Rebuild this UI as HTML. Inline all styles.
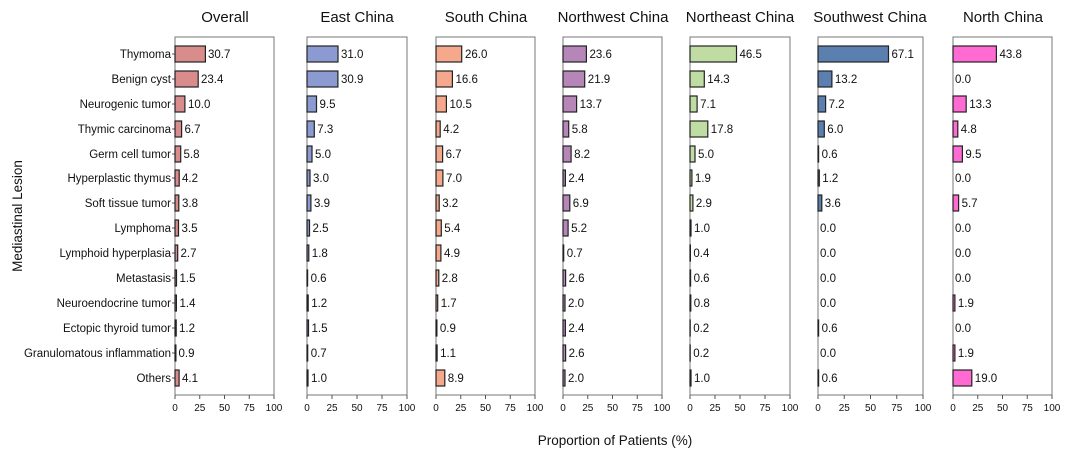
<!DOCTYPE html>
<html><head><meta charset="utf-8"><style>
body{margin:0;background:#fff}
svg{display:block;font-family:"Liberation Sans",sans-serif}
.t{font-size:15px;fill:#111;text-anchor:middle}
.v{font-size:11.5px;fill:#111}
.c{font-size:11.5px;fill:#111;text-anchor:end}
.k{font-size:10px;fill:#111;text-anchor:middle}
.f{fill:none;stroke:#777;stroke-width:1}
rect.b{stroke:#222;stroke-width:1.2}
</style></head><body>
<svg width="1080" height="461" viewBox="0 0 1080 461">
<text x="22" y="216" transform="rotate(-90 22 216)" style="font-size:13.5px;fill:#111;text-anchor:middle">Mediastinal Lesion</text>
<text x="615" y="445" style="font-size:13.5px;fill:#111;text-anchor:middle">Proportion of Patients (%)</text>

<!-- category labels -->
<g>
<text class="c" x="171" y="58">Thymoma</text>
<text class="c" x="171" y="83">Benign cyst</text>
<text class="c" x="171" y="108">Neurogenic tumor</text>
<text class="c" x="171" y="133">Thymic carcinoma</text>
<text class="c" x="171" y="158">Germ cell tumor</text>
<text class="c" x="171" y="182">Hyperplastic thymus</text>
<text class="c" x="171" y="207">Soft tissue tumor</text>
<text class="c" x="171" y="232">Lymphoma</text>
<text class="c" x="171" y="257">Lymphoid hyperplasia</text>
<text class="c" x="171" y="282">Metastasis</text>
<text class="c" x="171" y="307">Neuroendocrine tumor</text>
<text class="c" x="171" y="332">Ectopic thyroid tumor</text>
<text class="c" x="171" y="357">Granulomatous inflammation</text>
<text class="c" x="171" y="382">Others</text>
<path d="M172 54h3M172 79h3M172 104h3M172 129h3M172 154h3M172 178h3M172 203h3M172 228h3M172 253h3M172 278h3M172 303h3M172 328h3M172 353h3M172 378h3" stroke="#555"/>
</g>

<!-- Overall -->
<g transform="translate(175,0)">
<text class="t" x="50" y="22">Overall</text>
<rect class="f" x="0" y="37" width="99" height="358"/>
<path d="M0 395v4M24.75 395v4M49.5 395v4M74.25 395v4M99 395v4" stroke="#555"/>
<text class="k" x="0" y="411">0</text><text class="k" x="24.75" y="411">25</text><text class="k" x="49.5" y="411">50</text><text class="k" x="74.25" y="411">75</text><text class="k" x="99" y="411">100</text>
<g fill="#d98c8c">
<rect class="b" x="0" y="46" width="30.4" height="16"/>
<rect class="b" x="0" y="71" width="23.2" height="16"/>
<rect class="b" x="0" y="96" width="9.9" height="16"/>
<rect class="b" x="0" y="121" width="6.6" height="16"/>
<rect class="b" x="0" y="146" width="5.7" height="16"/>
<rect class="b" x="0" y="170" width="4.2" height="16"/>
<rect class="b" x="0" y="195" width="3.8" height="16"/>
<rect class="b" x="0" y="220" width="3.5" height="16"/>
<rect class="b" x="0" y="245" width="2.7" height="16"/>
<rect class="b" x="0" y="270" width="1.5" height="16"/>
<rect class="b" x="0" y="295" width="1.4" height="16"/>
<rect class="b" x="0" y="320" width="1.2" height="16"/>
<rect class="b" x="0" y="345" width="0.9" height="16"/>
<rect class="b" x="0" y="370" width="4.1" height="16"/>
</g>
<text class="v" x="33" y="58">30.7</text>
<text class="v" x="26" y="83">23.4</text>
<text class="v" x="13" y="108">10.0</text>
<text class="v" x="9.5" y="133">6.7</text>
<text class="v" x="8.5" y="158">5.8</text>
<text class="v" x="7" y="182">4.2</text>
<text class="v" x="7" y="207">3.8</text>
<text class="v" x="6.5" y="232">3.5</text>
<text class="v" x="5.5" y="257">2.7</text>
<text class="v" x="4.5" y="282">1.5</text>
<text class="v" x="4.5" y="307">1.4</text>
<text class="v" x="4" y="332">1.2</text>
<text class="v" x="3.5" y="357">0.9</text>
<text class="v" x="7" y="382">4.1</text>
</g>

<!-- East China -->
<g transform="translate(307,0)">
<text class="t" x="50" y="22">East China</text>
<rect class="f" x="0" y="37" width="100" height="358"/>
<path d="M0 395v4M25 395v4M50 395v4M75 395v4M100 395v4" stroke="#555"/>
<text class="k" x="0" y="411">0</text><text class="k" x="25" y="411">25</text><text class="k" x="50" y="411">50</text><text class="k" x="75" y="411">75</text><text class="k" x="100" y="411">100</text>
<g fill="#8b9bd1">
<rect class="b" x="0" y="46" width="31" height="16"/>
<rect class="b" x="0" y="71" width="30.9" height="16"/>
<rect class="b" x="0" y="96" width="9.5" height="16"/>
<rect class="b" x="0" y="121" width="7.3" height="16"/>
<rect class="b" x="0" y="146" width="5" height="16"/>
<rect class="b" x="0" y="170" width="3" height="16"/>
<rect class="b" x="0" y="195" width="3.9" height="16"/>
<rect class="b" x="0" y="220" width="2.5" height="16"/>
<rect class="b" x="0" y="245" width="1.8" height="16"/>
<rect class="b" x="0" y="270" width="0.6" height="16"/>
<rect class="b" x="0" y="295" width="1.2" height="16"/>
<rect class="b" x="0" y="320" width="1.5" height="16"/>
<rect class="b" x="0" y="345" width="0.7" height="16"/>
<rect class="b" x="0" y="370" width="1" height="16"/>
</g>
<text class="v" x="34" y="58">31.0</text>
<text class="v" x="34" y="83">30.9</text>
<text class="v" x="12.5" y="108">9.5</text>
<text class="v" x="10.3" y="133">7.3</text>
<text class="v" x="8" y="158">5.0</text>
<text class="v" x="6" y="182">3.0</text>
<text class="v" x="7" y="207">3.9</text>
<text class="v" x="5.5" y="232">2.5</text>
<text class="v" x="4.8" y="257">1.8</text>
<text class="v" x="3.6" y="282">0.6</text>
<text class="v" x="4.2" y="307">1.2</text>
<text class="v" x="4.5" y="332">1.5</text>
<text class="v" x="3.7" y="357">0.7</text>
<text class="v" x="4" y="382">1.0</text>
</g>

<!-- South China -->
<g transform="translate(436,0)">
<text class="t" x="50" y="22">South China</text>
<rect class="f" x="0" y="37" width="99" height="358"/>
<path d="M0 395v4M24.75 395v4M49.5 395v4M74.25 395v4M99 395v4" stroke="#555"/>
<text class="k" x="0" y="411">0</text><text class="k" x="24.75" y="411">25</text><text class="k" x="49.5" y="411">50</text><text class="k" x="74.25" y="411">75</text><text class="k" x="99" y="411">100</text>
<g fill="#f5a88c">
<rect class="b" x="0" y="46" width="25.7" height="16"/>
<rect class="b" x="0" y="71" width="16.4" height="16"/>
<rect class="b" x="0" y="96" width="10.4" height="16"/>
<rect class="b" x="0" y="121" width="4.2" height="16"/>
<rect class="b" x="0" y="146" width="6.6" height="16"/>
<rect class="b" x="0" y="170" width="6.9" height="16"/>
<rect class="b" x="0" y="195" width="3.2" height="16"/>
<rect class="b" x="0" y="220" width="5.3" height="16"/>
<rect class="b" x="0" y="245" width="4.9" height="16"/>
<rect class="b" x="0" y="270" width="2.8" height="16"/>
<rect class="b" x="0" y="295" width="1.7" height="16"/>
<rect class="b" x="0" y="320" width="0.9" height="16"/>
<rect class="b" x="0" y="345" width="1.1" height="16"/>
<rect class="b" x="0" y="370" width="8.8" height="16"/>
</g>
<text class="v" x="29" y="58">26.0</text>
<text class="v" x="19.5" y="83">16.6</text>
<text class="v" x="13.5" y="108">10.5</text>
<text class="v" x="7.2" y="133">4.2</text>
<text class="v" x="9.6" y="158">6.7</text>
<text class="v" x="10" y="182">7.0</text>
<text class="v" x="6.2" y="207">3.2</text>
<text class="v" x="8.3" y="232">5.4</text>
<text class="v" x="8" y="257">4.9</text>
<text class="v" x="5.8" y="282">2.8</text>
<text class="v" x="4.7" y="307">1.7</text>
<text class="v" x="3.9" y="332">0.9</text>
<text class="v" x="4.1" y="357">1.1</text>
<text class="v" x="11.8" y="382">8.9</text>
</g>

<!-- Northwest China -->
<g transform="translate(563,0)">
<text class="t" x="50" y="22">Northwest China</text>
<rect class="f" x="0" y="37" width="99" height="358"/>
<path d="M0 395v4M24.75 395v4M49.5 395v4M74.25 395v4M99 395v4" stroke="#555"/>
<text class="k" x="0" y="411">0</text><text class="k" x="24.75" y="411">25</text><text class="k" x="49.5" y="411">50</text><text class="k" x="74.25" y="411">75</text><text class="k" x="99" y="411">100</text>
<g fill="#b686b8">
<rect class="b" x="0" y="46" width="23.4" height="16"/>
<rect class="b" x="0" y="71" width="21.7" height="16"/>
<rect class="b" x="0" y="96" width="13.6" height="16"/>
<rect class="b" x="0" y="121" width="5.7" height="16"/>
<rect class="b" x="0" y="146" width="8.1" height="16"/>
<rect class="b" x="0" y="170" width="2.4" height="16"/>
<rect class="b" x="0" y="195" width="6.8" height="16"/>
<rect class="b" x="0" y="220" width="5.1" height="16"/>
<rect class="b" x="0" y="245" width="0.7" height="16"/>
<rect class="b" x="0" y="270" width="2.6" height="16"/>
<rect class="b" x="0" y="295" width="2" height="16"/>
<rect class="b" x="0" y="320" width="2.4" height="16"/>
<rect class="b" x="0" y="345" width="2.6" height="16"/>
<rect class="b" x="0" y="370" width="2" height="16"/>
</g>
<text class="v" x="26.5" y="58">23.6</text>
<text class="v" x="24.8" y="83">21.9</text>
<text class="v" x="16.6" y="108">13.7</text>
<text class="v" x="8.7" y="133">5.8</text>
<text class="v" x="11.1" y="158">8.2</text>
<text class="v" x="5.4" y="182">2.4</text>
<text class="v" x="9.8" y="207">6.9</text>
<text class="v" x="8.1" y="232">5.2</text>
<text class="v" x="3.7" y="257">0.7</text>
<text class="v" x="5.6" y="282">2.6</text>
<text class="v" x="5" y="307">2.0</text>
<text class="v" x="5.4" y="332">2.4</text>
<text class="v" x="5.6" y="357">2.6</text>
<text class="v" x="5" y="382">2.0</text>
</g>

<!-- Northeast China -->
<g transform="translate(690,0)">
<text class="t" x="50" y="22">Northeast China</text>
<rect class="f" x="0" y="37" width="100" height="358"/>
<path d="M0 395v4M25 395v4M50 395v4M75 395v4M100 395v4" stroke="#555"/>
<text class="k" x="0" y="411">0</text><text class="k" x="25" y="411">25</text><text class="k" x="50" y="411">50</text><text class="k" x="75" y="411">75</text><text class="k" x="100" y="411">100</text>
<g fill="#bfdda3">
<rect class="b" x="0" y="46" width="46.5" height="16"/>
<rect class="b" x="0" y="71" width="14.3" height="16"/>
<rect class="b" x="0" y="96" width="7.1" height="16"/>
<rect class="b" x="0" y="121" width="17.8" height="16"/>
<rect class="b" x="0" y="146" width="5" height="16"/>
<rect class="b" x="0" y="170" width="1.9" height="16"/>
<rect class="b" x="0" y="195" width="2.9" height="16"/>
<rect class="b" x="0" y="220" width="1" height="16"/>
<rect class="b" x="0" y="245" width="0.4" height="16"/>
<rect class="b" x="0" y="270" width="0.6" height="16"/>
<rect class="b" x="0" y="295" width="0.8" height="16"/>
<rect class="b" x="0" y="320" width="0.2" height="16"/>
<rect class="b" x="0" y="345" width="0.2" height="16"/>
<rect class="b" x="0" y="370" width="1" height="16"/>
</g>
<text class="v" x="49.5" y="58">46.5</text>
<text class="v" x="17.3" y="83">14.3</text>
<text class="v" x="10.1" y="108">7.1</text>
<text class="v" x="20.8" y="133">17.8</text>
<text class="v" x="8" y="158">5.0</text>
<text class="v" x="4.9" y="182">1.9</text>
<text class="v" x="5.9" y="207">2.9</text>
<text class="v" x="4" y="232">1.0</text>
<text class="v" x="3.4" y="257">0.4</text>
<text class="v" x="3.6" y="282">0.6</text>
<text class="v" x="3.8" y="307">0.8</text>
<text class="v" x="3.2" y="332">0.2</text>
<text class="v" x="3.2" y="357">0.2</text>
<text class="v" x="4" y="382">1.0</text>
</g>

<!-- Southwest China -->
<g transform="translate(818,0)">
<text class="t" x="52" y="22">Southwest China</text>
<rect class="f" x="0" y="37" width="105" height="358"/>
<path d="M0 395v4M26.25 395v4M52.5 395v4M78.75 395v4M105 395v4" stroke="#555"/>
<text class="k" x="0" y="411">0</text><text class="k" x="26.25" y="411">25</text><text class="k" x="52.5" y="411">50</text><text class="k" x="78.75" y="411">75</text><text class="k" x="105" y="411">100</text>
<g fill="#5b80b0">
<rect class="b" x="0" y="46" width="70.5" height="16"/>
<rect class="b" x="0" y="71" width="13.9" height="16"/>
<rect class="b" x="0" y="96" width="7.6" height="16"/>
<rect class="b" x="0" y="121" width="6.3" height="16"/>
<rect class="b" x="0" y="146" width="0.6" height="16"/>
<rect class="b" x="0" y="170" width="1.3" height="16"/>
<rect class="b" x="0" y="195" width="3.8" height="16"/>
<rect class="b" x="0" y="320" width="0.6" height="16"/>
<rect class="b" x="0" y="370" width="0.6" height="16"/>
</g>
<text class="v" x="73.5" y="58">67.1</text>
<text class="v" x="16.9" y="83">13.2</text>
<text class="v" x="10.6" y="108">7.2</text>
<text class="v" x="9.3" y="133">6.0</text>
<text class="v" x="3.6" y="158">0.6</text>
<text class="v" x="4.3" y="182">1.2</text>
<text class="v" x="6.8" y="207">3.6</text>
<text class="v" x="2" y="232">0.0</text>
<text class="v" x="2" y="257">0.0</text>
<text class="v" x="2" y="282">0.0</text>
<text class="v" x="2" y="307">0.0</text>
<text class="v" x="3.6" y="332">0.6</text>
<text class="v" x="2" y="357">0.0</text>
<text class="v" x="3.6" y="382">0.6</text>
</g>

<!-- North China -->
<g transform="translate(953,0)">
<text class="t" x="50" y="22">North China</text>
<rect class="f" x="0" y="37" width="99" height="358"/>
<path d="M0 395v4M24.75 395v4M49.5 395v4M74.25 395v4M99 395v4" stroke="#555"/>
<text class="k" x="0" y="411">0</text><text class="k" x="24.75" y="411">25</text><text class="k" x="49.5" y="411">50</text><text class="k" x="74.25" y="411">75</text><text class="k" x="99" y="411">100</text>
<g fill="#ff6bd3">
<rect class="b" x="0" y="46" width="43.4" height="16"/>
<rect class="b" x="0" y="96" width="13.2" height="16"/>
<rect class="b" x="0" y="121" width="4.8" height="16"/>
<rect class="b" x="0" y="146" width="9.4" height="16"/>
<rect class="b" x="0" y="195" width="5.6" height="16"/>
<rect class="b" x="0" y="295" width="1.9" height="16"/>
<rect class="b" x="0" y="345" width="1.9" height="16"/>
<rect class="b" x="0" y="370" width="18.8" height="16"/>
</g>
<text class="v" x="46.5" y="58">43.8</text>
<text class="v" x="2" y="83">0.0</text>
<text class="v" x="16.2" y="108">13.3</text>
<text class="v" x="7.8" y="133">4.8</text>
<text class="v" x="12.4" y="158">9.5</text>
<text class="v" x="2" y="182">0.0</text>
<text class="v" x="8.6" y="207">5.7</text>
<text class="v" x="2" y="232">0.0</text>
<text class="v" x="2" y="257">0.0</text>
<text class="v" x="2" y="282">0.0</text>
<text class="v" x="4.9" y="307">1.9</text>
<text class="v" x="2" y="332">0.0</text>
<text class="v" x="4.9" y="357">1.9</text>
<text class="v" x="21.8" y="382">19.0</text>
</g>
</svg>
</body></html>
